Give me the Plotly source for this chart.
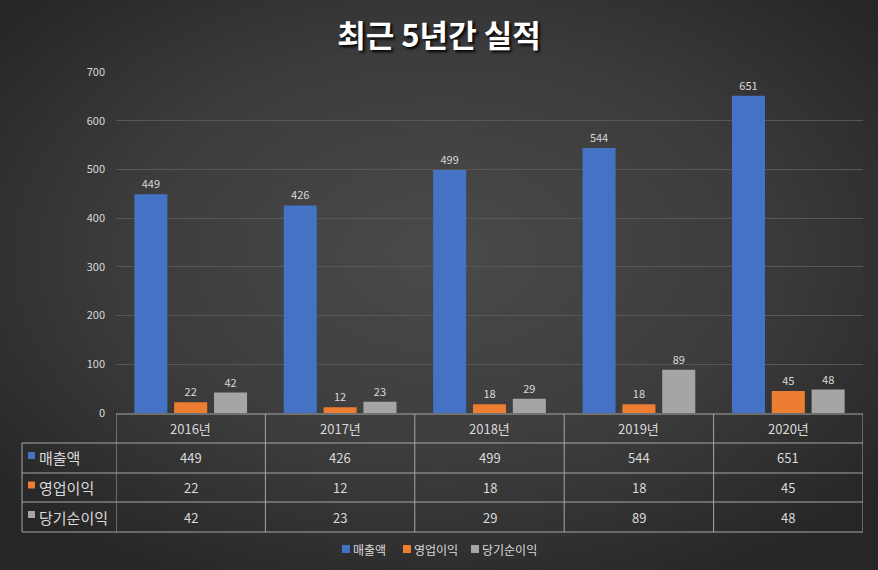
import base64
import plotly.graph_objects as go

years = ["2016년", "2017년", "2018년", "2019년", "2020년"]
series_names = ["매출액", "영업이익", "당기순이익"]
sales = [449, 426, 499, 544, 651]
op_profit = [22, 12, 18, 18, 45]
net_profit = [42, 23, 29, 89, 48]
series_values = [sales, op_profit, net_profit]
colors = ["#4472C4", "#ED7D31", "#A5A5A5"]
y_ticks = [0, 100, 200, 300, 400, 500, 600, 700]

W, H = 878, 570
L, R, T, B = 116, 15, 72, 157
PW, PH = W - L - R, H - T - B


def px_x(p):
    return (p - L) / PW


def px_y(p):
    return (H - B - p) / PH


svg = f'''<svg xmlns="http://www.w3.org/2000/svg" width="{W}" height="{H}">
<defs><radialGradient id="g" cx="50%" cy="45%" r="65%">
<stop offset="0%" stop-color="#4a4a4a"/><stop offset="55%" stop-color="#3c3c3c"/>
<stop offset="100%" stop-color="#262626"/></radialGradient></defs>
<rect width="{W}" height="{H}" fill="url(#g)"/></svg>'''
bg_src = "data:image/svg+xml;base64," + base64.b64encode(svg.encode()).decode()

FONT = "Noto Sans CJK KR"
TXT = "#d9d9d9"
LINE = "#a6a6a6"

fig = go.Figure()
for name, vals, col in zip(series_names, series_values, colors):
    fig.add_trace(go.Bar(
        x=years, y=vals, name=name,
        marker=dict(color=col, line=dict(width=0)),
        text=vals, textposition="outside",
        textfont=dict(color=TXT, size=11, family=FONT),
        cliponaxis=False, showlegend=False,
    ))

shapes = []
annotations = []

# table grid lines
row_lines_px = [414, 443, 473, 502, 532]
for i, py in enumerate(row_lines_px):
    x0 = px_x(116) if i == 0 else px_x(22)
    shapes.append(dict(type="line", xref="paper", yref="paper",
                       x0=x0, x1=1, y0=px_y(py), y1=px_y(py),
                       line=dict(color=LINE, width=1)))
for k in range(len(years) + 1):
    shapes.append(dict(type="line", xref="x", yref="paper",
                       x0=k - 0.5, x1=k - 0.5, y0=px_y(414), y1=px_y(532),
                       line=dict(color=LINE, width=1)))
shapes.append(dict(type="line", xref="paper", yref="paper",
                   x0=px_x(22), x1=px_x(22), y0=px_y(443), y1=px_y(532),
                   line=dict(color=LINE, width=1)))

# header
for yr in years:
    annotations.append(dict(x=yr, xref="x", y=px_y(428.5), yref="paper",
                            text=yr, showarrow=False, xanchor="center", yanchor="middle",
                            font=dict(color=TXT, size=13, family=FONT)))
row_centers = [458, 487.5, 517]
for name, vals, col, cy in zip(series_names, series_values, colors, row_centers):
    shapes.append(dict(type="rect", xref="paper", yref="paper",
                       x0=px_x(28), x1=px_x(35), y0=px_y(cy - 6), y1=px_y(cy + 1),
                       fillcolor=col, line=dict(width=0)))
    annotations.append(dict(x=px_x(37), xref="paper", y=px_y(cy), yref="paper",
                            text=name, showarrow=False, xanchor="left", yanchor="middle",
                            font=dict(color=TXT, size=15, family=FONT)))
    for yr, v in zip(years, vals):
        annotations.append(dict(x=yr, xref="x", y=px_y(cy), yref="paper",
                                text=str(v), showarrow=False,
                                xanchor="center", yanchor="middle",
                                font=dict(color=TXT, size=13, family=FONT)))

# legend (bottom)
legend_sq_px = [342, 403, 471]
for name, col, sx in zip(series_names, colors, legend_sq_px):
    shapes.append(dict(type="rect", xref="paper", yref="paper",
                       x0=px_x(sx), x1=px_x(sx + 8), y0=px_y(553), y1=px_y(545),
                       fillcolor=col, line=dict(width=0)))
    annotations.append(dict(x=px_x(sx + 9), xref="paper", y=px_y(549), yref="paper",
                            text=name, showarrow=False, xanchor="left", yanchor="middle",
                            font=dict(color=TXT, size=12, family=FONT)))

fig.update_layout(
    width=W, height=H,
    margin=dict(l=L, r=R, t=T, b=B, autoexpand=False),
    paper_bgcolor="#333333",
    plot_bgcolor="rgba(0,0,0,0)",
    showlegend=False,
    images=[dict(source=bg_src, xref="paper", yref="paper",
                 x=px_x(0), y=px_y(0), sizex=W / PW, sizey=H / PH,
                 sizing="stretch", layer="below", xanchor="left", yanchor="top")],
    title=dict(text="<b>최근 5년간 실적</b>", x=0.5, xref="container", xanchor="center",
               y=1 - 36 / H, yref="container", yanchor="middle",
               font=dict(size=31, color="#ffffff", family=FONT,
                         shadow="2px 2px 3px #000000")),
    barmode="group", bargap=0.2, bargroupgap=0.17,
    xaxis=dict(showticklabels=False, showgrid=False, zeroline=False,
               showline=False, ticks="", range=[-0.5, 4.5]),
    yaxis=dict(range=[0, 700], tickvals=y_ticks, showgrid=True,
               gridcolor="#575757", gridwidth=1, zeroline=False, showline=False,
               ticks="", ticklabelstandoff=10,
               tickfont=dict(color=TXT, size=11, family=FONT)),
    shapes=shapes,
    annotations=annotations,
)

fig.write_html("out.html", config={"displayModeBar": False},
               post_script="document.body.style.margin='0';document.body.style.overflow='hidden';")
